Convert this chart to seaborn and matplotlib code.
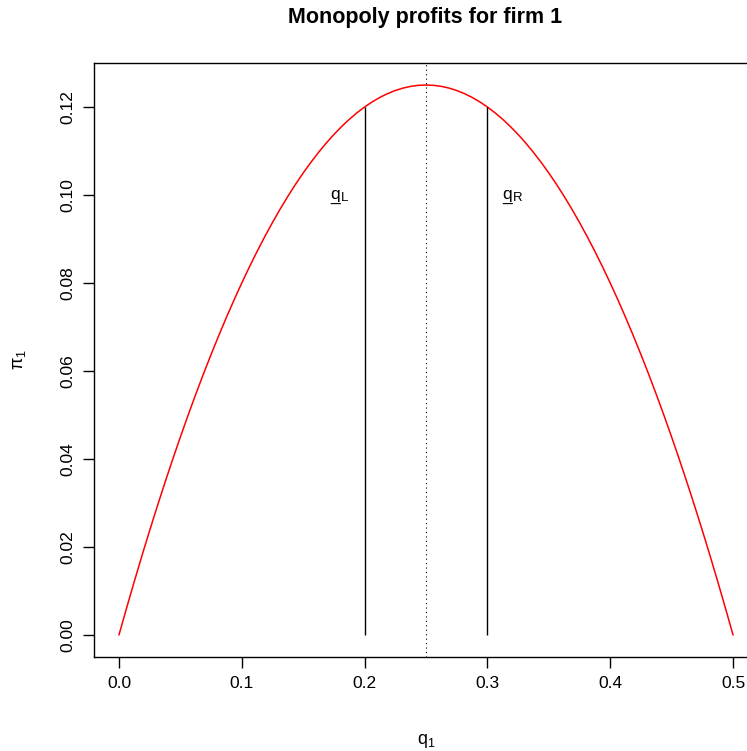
import matplotlib
matplotlib.use("Agg")
import matplotlib.pyplot as plt
import seaborn as sns
import pandas as pd

sns.set_style("ticks")
plt.rcParams['font.family'] = ['Liberation Sans', 'DejaVu Sans']
plt.rcParams['mathtext.fontset'] = 'custom'
plt.rcParams['mathtext.rm'] = 'Liberation Sans'
plt.rcParams['mathtext.it'] = 'Liberation Sans'
plt.rcParams['mathtext.sf'] = 'Liberation Sans'
for k in ['text.color', 'axes.labelcolor', 'xtick.color', 'ytick.color', 'axes.edgecolor']:
    plt.rcParams[k] = 'black'

# quantity q1 and profit pi1
q1 = [0.0, 0.00625, 0.0125, 0.01875, 0.025, 0.03125, 0.0375, 0.04375, 0.05, 0.05625,
      0.0625, 0.06875, 0.075, 0.08125, 0.0875, 0.09375, 0.1, 0.10625, 0.1125, 0.11875,
      0.125, 0.13125, 0.1375, 0.14375, 0.15, 0.15625, 0.1625, 0.16875, 0.175, 0.18125,
      0.1875, 0.19375, 0.2, 0.20625, 0.2125, 0.21875, 0.225, 0.23125, 0.2375, 0.24375,
      0.25, 0.25625, 0.2625, 0.26875, 0.275, 0.28125, 0.2875, 0.29375, 0.3, 0.30625,
      0.3125, 0.31875, 0.325, 0.33125, 0.3375, 0.34375, 0.35, 0.35625, 0.3625, 0.36875,
      0.375, 0.38125, 0.3875, 0.39375, 0.4, 0.40625, 0.4125, 0.41875, 0.425, 0.43125,
      0.4375, 0.44375, 0.45, 0.45625, 0.4625, 0.46875, 0.475, 0.48125, 0.4875, 0.49375, 0.5]
pi1 = [0.0, 0.006172, 0.012188, 0.018047, 0.02375, 0.029297, 0.034688, 0.039922, 0.045, 0.049922,
       0.054688, 0.059297, 0.06375, 0.068047, 0.072188, 0.076172, 0.08, 0.083672, 0.087188, 0.090547,
       0.09375, 0.096797, 0.099688, 0.102422, 0.105, 0.107422, 0.109688, 0.111797, 0.11375, 0.115547,
       0.117188, 0.118672, 0.12, 0.121172, 0.122188, 0.123047, 0.12375, 0.124297, 0.124688, 0.124922,
       0.125, 0.124922, 0.124688, 0.124297, 0.12375, 0.123047, 0.122188, 0.121172, 0.12, 0.118672,
       0.117188, 0.115547, 0.11375, 0.111797, 0.109688, 0.107422, 0.105, 0.102422, 0.099688, 0.096797,
       0.09375, 0.090547, 0.087188, 0.083672, 0.08, 0.076172, 0.072188, 0.068047, 0.06375, 0.059297,
       0.054688, 0.049922, 0.045, 0.039922, 0.034688, 0.029297, 0.02375, 0.018047, 0.012188, 0.006172, 0.0]

q_bounds = [0.2, 0.3]
pi_bounds = [0.12, 0.12]
q_peak = 0.25
label_x = [0.18, 0.32]
label_y = [0.10, 0.10]
label_subs = ["L", "R"]
xticks = [0.0, 0.1, 0.2, 0.3, 0.4, 0.5]
yticks = [0.00, 0.02, 0.04, 0.06, 0.08, 0.10, 0.12]

df = pd.DataFrame({"q": q1, "pi": pi1})

fig = plt.figure(figsize=(7.47, 7.51), dpi=100)
ax = fig.add_axes([94.4 / 747, (751 - 657) / 751, 663.2 / 747, 594 / 751])

sns.lineplot(data=df, x="q", y="pi", color="red", linewidth=1.1, ax=ax)
for qb, pb in zip(q_bounds, pi_bounds):
    ax.vlines(qb, 0, pb, color="black", linewidth=1.0)
ax.axvline(q_peak, color="black", linestyle=(0, (1, 3)), linewidth=0.8)
for x, y, s in zip(label_x, label_y, label_subs):
    ax.annotate("q", (x, y), xytext=(0, -3), textcoords="offset points",
                ha="right", va="baseline", fontsize=12.5)
    ax.annotate("_", (x, y), xytext=(0, -5), textcoords="offset points",
                ha="right", va="baseline", fontsize=12.5)
    ax.annotate(s, (x, y), xytext=(0.4, -4.5), textcoords="offset points",
                ha="left", va="baseline", fontsize=9.5)

ax.set_xlim(-0.02, 0.52)
ax.set_ylim(-0.005, 0.13)
ax.set_xticks(xticks)
ax.set_xticklabels([f"{v:.1f}" for v in xticks])
ax.set_yticks(yticks)
ax.set_yticklabels([f"{v:.2f}" for v in yticks], rotation=90, va="center")
ax.tick_params(axis="both", labelsize=12.5, length=8, width=1, direction="out", pad=6, color="black")
for sp in ax.spines.values():
    sp.set_visible(True)
    sp.set_linewidth(1.0)
    sp.set_color("black")

ax.set_xlabel(r"$\mathrm{q}_1$", fontsize=13, labelpad=29)
ax.set_ylabel(r"$\pi_1$", fontsize=13, labelpad=23)
fig.text(425 / 747, 1 - 17 / 751, "Monopoly profits for firm 1", ha="center", va="center",
         fontsize=15.5, fontweight="bold")

fig.savefig("out.png", dpi=100)
